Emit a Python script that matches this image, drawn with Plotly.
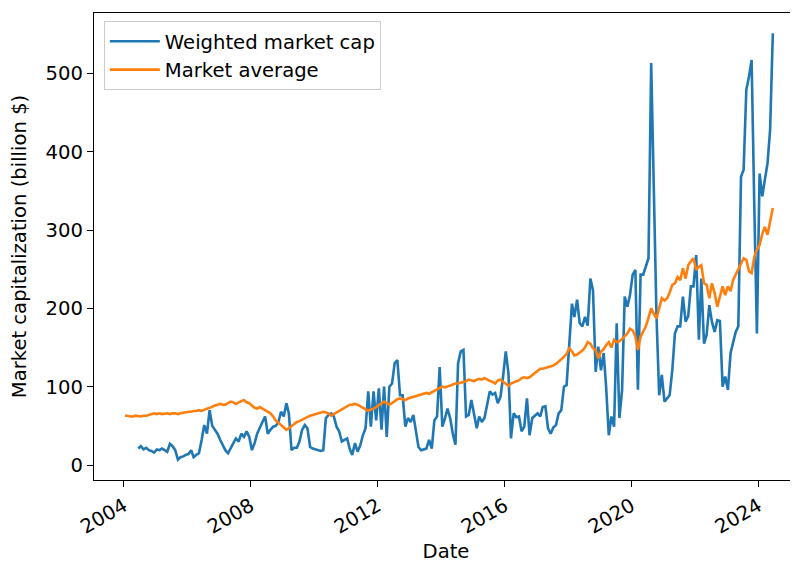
import plotly.graph_objects as go

# Monthly market average (billion $), Jan 2004 - Jun 2024
market_average = [
    63, 63, 62, 62, 63, 62, 62, 63, 63, 64, 65, 66,          # 2004
    65, 66, 65, 66, 66, 65, 66, 66, 65, 66, 67, 67,          # 2005
    68, 68, 69, 69, 70, 69, 71, 72, 73, 75, 76, 77,          # 2006
    78, 77, 77, 79, 81, 80, 78, 80, 82, 83, 80, 79,          # 2007
    76, 73, 72, 74, 72, 70, 68, 66, 62, 57, 54, 51,          # 2008
    48, 45, 47, 50, 53, 55, 56, 58, 60, 62, 63, 64,          # 2009
    65, 66, 67, 68, 67, 66, 63, 65, 68, 70, 72, 73,          # 2010
    75, 77, 77, 78, 77, 75, 73, 70, 69, 71, 72, 74,          # 2011
    77, 79, 81, 79, 77, 79, 82, 84, 85, 84, 83, 85,          # 2012
    86, 87, 88, 89, 90, 91, 92, 91, 93, 95, 96, 98,          # 2013
    100, 99, 100, 101, 102, 104, 104, 105, 106, 107, 109, 108,  # 2014
    107, 109, 110, 109, 111, 109, 108, 106, 104, 108, 109, 106,  # 2015
    104, 101, 104, 106, 107, 108, 111, 112, 111, 112, 115, 118,  # 2016
    120, 123, 123, 124, 125, 126, 127, 129, 132, 134, 138, 142,  # 2017
    149, 145, 140, 141, 143, 146, 150, 157, 155, 149, 147, 136,  # 2018
    145, 148, 153, 157, 150, 160, 157, 158, 161, 164, 168, 174,  # 2019
    172, 164, 147, 164, 170, 177, 188, 200, 193, 187, 200, 213,  # 2020
    210, 213, 220, 230, 232, 240, 236, 251, 238, 255, 260, 264,  # 2021
    249, 253, 255, 232, 230, 213, 232, 220, 202, 215, 228, 217,  # 2022
    228, 222, 236, 243, 250, 258, 264, 262, 247, 245, 266, 275,  # 2023
    281, 295, 304, 294, 310, 328,                                # 2024
]

# Monthly weighted market cap (billion $), Jun 2004 - Jun 2024
weighted_cap = [
    21, 24, 20, 22, 19, 18, 16,                                  # 2004 (Jun-Dec)
    20, 19, 21, 19, 17, 27, 24, 19, 7, 10, 11, 13,               # 2005
    14, 19, 10, 13, 15, 32, 51, 40, 70, 50, 45, 40,              # 2006
    32, 25, 19, 15, 22, 28, 34, 30, 40, 36, 43, 36,              # 2007
    19, 28, 40, 49, 55, 62, 40, 45, 49, 50, 55, 68,              # 2008
    62, 79, 66, 19, 22, 22, 30, 45, 51, 47, 23, 21,              # 2009
    20, 19, 18, 19, 60, 64, 66, 62, 49, 43, 30, 32,              # 2010
    34, 20, 13, 28, 17, 25, 38, 47, 94, 49, 94, 57,              # 2011
    98, 45, 100, 36, 100, 104, 130, 134, 89, 89, 49, 60,         # 2012
    55, 64, 45, 23, 19, 20, 21, 32, 21, 57, 62, 125,             # 2013
    49, 60, 72, 60, 40, 26, 130, 145, 147, 62, 64, 83,           # 2014
    66, 47, 62, 55, 60, 79, 94, 90, 92, 79, 87, 113,             # 2015
    145, 117, 34, 66, 61, 62, 43, 49, 85, 38, 60, 63,            # 2016
    66, 62, 74, 75, 47, 40, 48, 51, 66, 70, 100, 102,            # 2017
    160, 206, 189, 211, 181, 177, 189, 178, 238, 223, 119, 151,  # 2018
    121, 143, 100, 38, 62, 49, 181, 60, 96, 215, 202, 217,       # 2019
    243, 249, 96, 243, 243, 255, 264, 513, 350, 190, 89, 115,    # 2020
    81, 86, 89, 121, 168, 177, 177, 215, 183, 190, 228, 228,     # 2021
    268, 160, 238, 155, 166, 204, 183, 170, 185, 184, 100, 113,  # 2022
    96, 143, 157, 170, 177, 368, 377, 479, 496, 517, 330, 168,   # 2023
    372, 343, 364, 385, 428, 551,                                # 2024
]

avg_start_month = 0      # months after Jan 2004
cap_start_month = 5

x_tick_years = [2004, 2008, 2012, 2016, 2020, 2024]
x_tick_labels = [str(y) for y in x_tick_years]
y_tick_values = [0, 100, 200, 300, 400, 500]


def month_dates(start, n):
    out = []
    for k in range(n):
        m = start + k
        out.append(f"{2004 + m // 12}-{m % 12 + 1:02d}-15")
    return out


dates_avg = month_dates(avg_start_month, len(market_average))
dates_cap = month_dates(cap_start_month, len(weighted_cap))

FONT = "DejaVu Sans"
FS = 19.6

fig = go.Figure()
fig.add_trace(go.Scatter(x=dates_cap, y=weighted_cap, mode="lines",
                         name="Weighted market cap",
                         line=dict(color="#1f77b4", width=2.6)))
fig.add_trace(go.Scatter(x=dates_avg, y=market_average, mode="lines",
                         name="Market average",
                         line=dict(color="#ff7f0e", width=2.6)))

fig.update_layout(
    width=798, height=563,
    margin=dict(l=86, r=8, t=5, b=91),
    paper_bgcolor="white", plot_bgcolor="white",
    font=dict(family=FONT, size=FS, color="black"),
    showlegend=True,
    legend=dict(x=0.014, y=0.983, xanchor="left", yanchor="top",
                bgcolor="rgba(255,255,255,0.8)", bordercolor="#cccccc",
                borderwidth=1, font=dict(family=FONT, size=FS),
                itemwidth=50, tracegroupgap=0),
)
fig.update_xaxes(
    type="date",
    range=["2003-01-23", "2025-04-01"],
    tickvals=[f"{y}-01-01" for y in x_tick_years],
    ticktext=x_tick_labels,
    tickangle=-30,
    ticks="outside", ticklen=6, tickwidth=1.1, tickcolor="black",
    showline=True, linecolor="black", linewidth=1.1, mirror=True,
    showgrid=False, zeroline=False, automargin=False,
    title=dict(text="Date", font=dict(family=FONT, size=FS), standoff=6),
)
fig.update_yaxes(
    range=[-19.1, 577],
    tickvals=y_tick_values,
    ticks="outside", ticklen=6, tickwidth=1.1, tickcolor="black",
    showline=True, linecolor="black", linewidth=1.1,
    showgrid=False, zeroline=False, automargin=False,
    title=dict(text="Market capitalization (billion $)",
               font=dict(family=FONT, size=FS), standoff=13),
)

fig.write_html("out.html")
